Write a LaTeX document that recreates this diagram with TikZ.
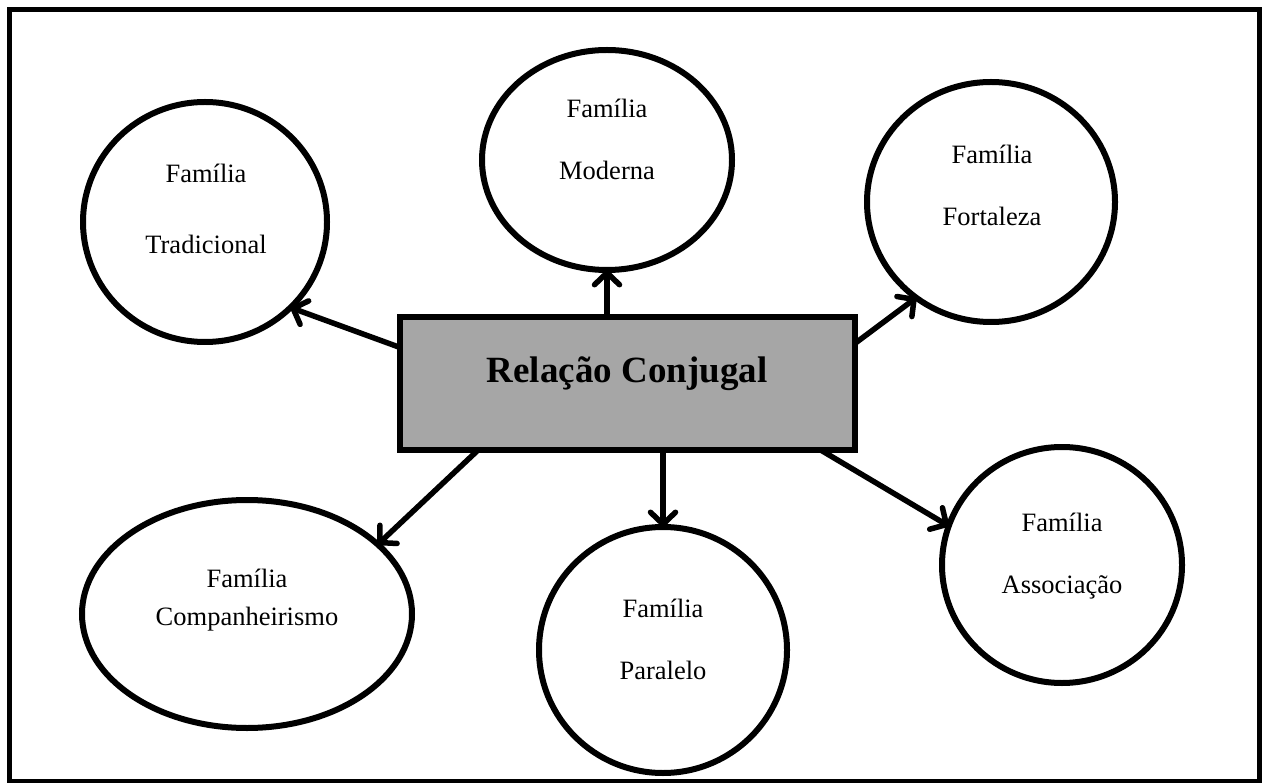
\documentclass[tikz,border=0pt]{standalone}
\usepackage{fontspec}
\setmainfont{Liberation Serif}
\usetikzlibrary{shapes.geometric,arrows.meta}
\definecolor{boxgray}{HTML}{A6A6A6}
\begin{document}
\begin{tikzpicture}[x=1pt,y=-1pt,
  bubble/.style={ellipse,draw,line width=6pt,inner sep=0pt,outer sep=0pt},
  famtext/.style={anchor=base,inner sep=0pt,font=\fontsize{26.5}{30}\selectfont},
  link/.style={line width=5.5pt,line cap=round,
    -{Straight Barb[length=12pt,width=25pt,line cap=round,line join=round]}},
]
\useasboundingbox (0,0) rectangle (1266,783);
% outer frame
\draw[line width=5pt] (9,10) rectangle (1259,781);

% family bubbles
\node[bubble,minimum width=244pt,minimum height=240pt] (trad)  at (205,222) {};
\node[bubble,minimum width=250pt,minimum height=220pt] (mod)   at (607,160) {};
\node[bubble,minimum width=248pt,minimum height=240pt] (fort)  at (991,202) {};
\node[bubble,minimum width=330pt,minimum height=228pt] (comp)  at (247,614) {};
\node[bubble,minimum width=248pt,minimum height=246pt] (par)   at (663,650) {};
\node[bubble,minimum width=240pt,minimum height=236pt] (assoc) at (1062,565) {};

% bubble texts
\node[famtext] (tradA)  at (206,183) {Família};
\node[famtext] (tradB)  at (206,254) {Tradicional};
\node[famtext] (modA)   at (607,118) {Família};
\node[famtext] (modB)   at (607,180) {Moderna};
\node[famtext] (fortA)  at (992,164) {Família};
\node[famtext] (fortB)  at (992,226) {Fortaleza};
\node[famtext] (compA)  at (247,587) {Família};
\node[famtext] (compB)  at (247,625) {Companheirismo};
\node[famtext] (parA)   at (663,617) {Família};
\node[famtext] (parB)   at (663,679) {Paralelo};
\node[famtext] (assocA) at (1062,531) {Família};
\node[famtext] (assocB) at (1062,593) {Associação};

% central box
\node[draw,fill=boxgray,line width=5.5pt,minimum width=455pt,minimum height=133pt,
      inner sep=0pt,outer sep=0pt] (rel) at (627.5,383.5) {};

% connectors
\draw[link] (rel.171.6) -- (trad.315);
\draw[link] (rel.north -| mod.south) -- (mod.south);
\draw[link] (rel.10.7) -- (fort.232);
\draw[link] (rel.204.3) -- (comp.28);
\draw[link] (rel.south -| par.north) -- (par.north);
\draw[link] (rel.341.4) -- (assoc.161);

% redraw box outline over the connector ends
\draw[line width=5.5pt] (rel.south west) rectangle (rel.north east);
\node[anchor=base,inner sep=0pt,font=\bfseries\fontsize{37}{40}\selectfont] (reltext)
  at (627,382) {Relação Conjugal};
\end{tikzpicture}
\end{document}
